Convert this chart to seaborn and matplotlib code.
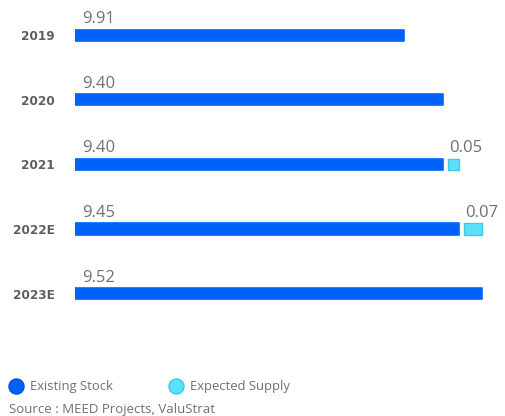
import matplotlib
matplotlib.use("Agg")
import matplotlib.pyplot as plt
from matplotlib.lines import Line2D
import seaborn as sns
import numpy as np
import pandas as pd

# ---- data ----
years = ["2019", "2020", "2021", "2022E", "2023E"]
existing_stock = [9.91, 9.40, 9.40, 9.45, 9.52]           # labelled values
existing_bar_extent = [9.28, 9.40, 9.40, 9.45, 9.52]      # bar lengths as drawn in the reference
expected_supply = [0.0, 0.0, 0.05, 0.07, 0.0]
supply_labels = ["", "", "0.05", "0.07", ""]

BLUE = "#0062FA"
CYAN = "#5BE0FB"
CYAN_EDGE = "#3CCBEA"
TXT = "#707070"

sns.set_theme(style="white")
plt.rcParams["font.family"] = ["Open Sans", "DejaVu Sans"]

W, H = 506, 416
fig = plt.figure(figsize=(W / 100, H / 100), dpi=100)
ax_left, ax_right, ax_top, ax_bot = 75, 500, 2.9, 325.8
ax = fig.add_axes([ax_left / W, 1 - ax_bot / H, (ax_right - ax_left) / W, (ax_bot - ax_top) / H])

df = pd.DataFrame({"year": years, "existing": existing_bar_extent})
sns.barplot(data=df, x="existing", y="year", orient="h", color=BLUE, width=0.175,
            saturation=1, ax=ax, edgecolor=BLUE, linewidth=1.2)
for p in ax.patches:
    p.set_joinstyle("round")

xmin = 8.264
px_per_unit = 324.0
ax.set_xlim(xmin, xmin + (ax_right - ax_left) / px_per_unit)
ax.set_ylim(4.5, -0.5)

gap = 5.0 / px_per_unit
ex = np.array(existing_bar_extent)
sup = np.array(expected_supply)
mask = sup > 0
ypos = np.arange(len(years))
bars = ax.barh(ypos[mask], sup[mask] - gap, left=ex[mask] + gap, height=0.175,
               color=CYAN, edgecolor=CYAN_EDGE, linewidth=1.0)
for p in bars:
    p.set_joinstyle("round")

# value labels
for i, v in enumerate(existing_stock):
    ax.annotate(f"{v:.2f}", xy=(xmin, i), xytext=(5.3, 8.6), textcoords="offset points",
                ha="left", va="baseline", fontsize=12, color=TXT, annotation_clip=False)
for i in np.where(mask)[0]:
    ax.annotate(supply_labels[i], xy=(ex[i] + gap, i), xytext=(0.5, 8.6), textcoords="offset points",
                ha="left", va="baseline", fontsize=12, color=TXT, annotation_clip=False)

ax.set_xlabel("")
ax.set_ylabel("")
ax.set_xticks([])
ax.tick_params(axis="y", length=0, pad=14.4)
for lab in ax.get_yticklabels():
    lab.set_fontfamily("DejaVu Sans")
    lab.set_fontweight("bold")
    lab.set_fontsize(8.7)
    lab.set_color("#5e5e5e")
    lab.set_va("center_baseline")
for s in ax.spines.values():
    s.set_visible(False)

handles = [
    Line2D([], [], marker="o", linestyle="none", markersize=10.8, markerfacecolor=BLUE,
           markeredgecolor="#0050D0", label="Existing Stock"),
    Line2D([], [], marker="o", linestyle="none", markersize=10.8, markerfacecolor=CYAN,
           markeredgecolor=CYAN_EDGE, label="Expected Supply"),
]
fig.legend(handles=handles, loc="center left", bbox_to_anchor=(9.5 / W, 1 - 386.7 / H),
           ncol=2, frameon=False, fontsize=9.4, handlelength=1.0, handletextpad=0.575,
           columnspacing=4.33, borderpad=0, borderaxespad=0, labelcolor=TXT)

fig.text(9.3 / W, 1 - 410 / H, "Source : MEED Projects, ValuStrat", fontsize=9.5,
         color=TXT, ha="left", va="center")

fig.savefig("out.png", dpi=100)
